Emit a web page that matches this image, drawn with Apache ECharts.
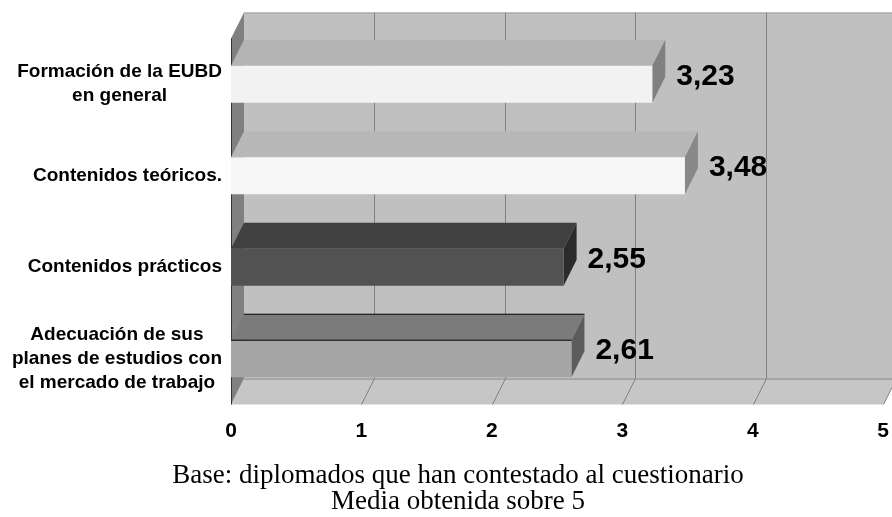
<!DOCTYPE html>
<html><head><meta charset="utf-8">
<script src="https://cdn.jsdelivr.net/npm/echarts@6/dist/echarts.min.js"></script>
<style>html,body{margin:0;padding:0;background:#fff}#c{width:892px;height:517px}</style>
</head><body><div id="c"></div>
<script>
const categories = ['Formación de la EUBD\nen general', 'Contenidos teóricos.', 'Contenidos prácticos', 'Adecuación de sus\nplanes de estudios con\nel mercado de trabajo'];
const values = [3.23, 3.48, 2.55, 2.61];
const valueLabels = ['3,23', '3,48', '2,55', '2,61'];
const xTicks = [0, 1, 2, 3, 4, 5];
const captionLines = ['Base: diplomados que han contestado al cuestionario', 'Media obtenida sobre 5'];

const faceColors = [
  { front: '#f2f2f2', top: '#b4b4b4', side: '#808080' },
  { front: '#f6f6f6', top: '#b8b8b8', side: '#888888' },
  { front: '#525252', top: '#404040', side: '#2b2b2b' },
  { front: '#a6a6a6', top: '#7b7b7b', side: '#5c5c5c', edge: '#000000' }
];
const DX = 13, DY = -26;
const SANS = 'Arial, "Liberation Sans", Helvetica, sans-serif';

const chart = echarts.init(document.getElementById('c'), null, { renderer: 'canvas' });

function wallsRender(params, api) {
  const cs = params.coordSys;
  const L = cs.x, T = cs.y, R = cs.x + cs.width, B = cs.y + cs.height;
  const ch = [];
  ch.push({ type: 'rect', shape: { x: L + DX, y: T + DY, width: cs.width, height: cs.height }, style: { fill: '#c0c0c0' } });
  ch.push({ type: 'polygon', shape: { points: [[L, B], [L + DX, B + DY], [R + DX, B + DY], [R, B]] }, style: { fill: '#c6c6c6' } });
  ch.push({ type: 'polygon', shape: { points: [[L, T], [L + DX, T + DY], [L + DX, B + DY], [L, B]] }, style: { fill: '#808080' } });
  ch.push({ type: 'line', shape: { x1: L + DX, y1: T + DY + 0.5, x2: R + DX, y2: T + DY + 0.5 }, style: { stroke: '#a0a0a0', lineWidth: 1 } });
  xTicks.forEach(t => {
    const x = Math.round(api.coord([t, 0])[0]) + 0.5;
    if (t > 0) {
      ch.push({ type: 'line', shape: { x1: x + DX, y1: T + DY, x2: x + DX, y2: B + DY }, style: { stroke: '#808080', lineWidth: 1 } });
      ch.push({ type: 'line', shape: { x1: x, y1: B, x2: x + DX, y2: B + DY }, style: { stroke: '#808080', lineWidth: 1 } });
    }
  });
  ch.push({ type: 'line', shape: { x1: L + DX, y1: B + DY + 0.5, x2: R + DX, y2: B + DY + 0.5 }, style: { stroke: '#808080', lineWidth: 1 } });
  ch.push({ type: 'line', shape: { x1: L + 0.5, y1: T, x2: L + 0.5, y2: B }, style: { stroke: '#333333', lineWidth: 1 } });
  return { type: 'group', children: ch };
}

function barRender(params, api) {
  const v = api.value(0), i = api.value(1);
  const p0 = api.coord([0, i]);
  const p1 = api.coord([v, i]);
  const band = api.size([0, 1])[1];
  const h = band * 0.405;
  const yT = p0[1] - h / 2, yB = p0[1] + h / 2;
  const x0 = p0[0], x1 = p1[0];
  const c = faceColors[params.dataIndex];
  const ch = [
    { type: 'polygon', shape: { points: [[x0, yT], [x1, yT], [x1 + DX, yT + DY], [x0 + DX, yT + DY]] }, style: { fill: c.top } },
    { type: 'polygon', shape: { points: [[x1, yT], [x1 + DX, yT + DY], [x1 + DX, yB + DY], [x1, yB]] }, style: { fill: c.side } },
    { type: 'rect', shape: { x: x0, y: yT, width: x1 - x0, height: h }, style: { fill: c.front } }
  ];
  if (c.edge) {
    ch.push({ type: 'line', shape: { x1: x0, y1: yT, x2: x1, y2: yT }, style: { stroke: c.edge, lineWidth: 1 } });
    ch.push({ type: 'line', shape: { x1: x0 + DX, y1: yT + DY, x2: x1 + DX, y2: yT + DY }, style: { stroke: c.edge, lineWidth: 1 } });
  }
  ch.push({ type: 'text', style: { text: valueLabels[params.dataIndex], x: x1 + 24, y: p0[1] - 8, fill: '#000', font: 'bold 30px ' + SANS, align: 'left', verticalAlign: 'middle' } });
  return { type: 'group', children: ch };
}

chart.setOption({
  animation: false,
  backgroundColor: '#ffffff',
  title: {
    text: captionLines.join('\n'),
    left: 453, top: 458, textAlign: 'center',
    textStyle: { fontFamily: '"Liberation Serif", "Times New Roman", serif', fontSize: 27, fontWeight: 'normal', lineHeight: 26, color: '#000' }
  },
  grid: { left: 231, top: 38.5, width: 659, height: 366 },
  xAxis: {
    type: 'value', min: 0, max: 5, interval: 1,
    axisLine: { show: false }, axisTick: { show: false }, splitLine: { show: false },
    axisLabel: { color: '#000', fontSize: 21, fontWeight: 'bold', fontFamily: SANS, margin: 16 }
  },
  yAxis: {
    type: 'category', data: categories, inverse: true,
    axisLine: { show: false }, axisTick: { show: false }, splitLine: { show: false },
    axisLabel: {
      margin: 9, align: 'right',
      formatter: s => s.split('\n').map(l => '{c|' + l + '}').join('\n'),
      rich: { c: { align: 'center', color: '#000', fontSize: 19, fontWeight: 'bold', fontFamily: SANS, lineHeight: 24 } }
    }
  },
  series: [
    { type: 'custom', silent: true, clip: false, z: 1, renderItem: wallsRender, data: [[0, 0]], encode: { x: 0, y: 1 } },
    { type: 'custom', silent: true, clip: false, z: 2, renderItem: barRender, data: values.map((v, i) => [v, i]), encode: { x: 0, y: 1 } }
  ]
});
</script></body></html>
